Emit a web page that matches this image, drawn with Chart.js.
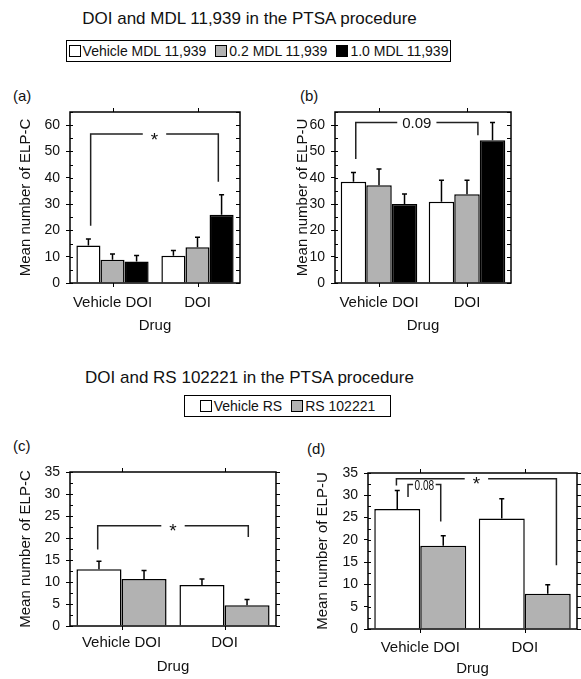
<!DOCTYPE html>
<html><head><meta charset="utf-8">
<script src="https://cdn.jsdelivr.net/npm/chart.js@4.4.0/dist/chart.umd.min.js"></script>
<style>
body{margin:0;background:#fff;}
#page{position:relative;width:581px;height:679px;font-family:"Liberation Sans",Arial,sans-serif;color:#111;overflow:hidden;}
.t{position:absolute;white-space:nowrap;line-height:1;}
canvas{position:absolute;}
.legend{position:absolute;border:1px solid #000;height:22px;display:flex;align-items:center;justify-content:center;font-size:14px;box-sizing:border-box;white-space:nowrap;}
.sw{display:inline-block;width:12px;height:12px;border:1px solid #000;box-sizing:border-box;margin-right:2px;}
.gap{display:inline-block;width:9px;}
</style></head>
<body>
<div id="page">
  <div class="t" id="title1" style="left:0;width:499px;text-align:center;top:10px;font-size:17px;">DOI and MDL 11,939 in the PTSA procedure</div>
  <div class="legend" style="left:66px;top:40px;width:385px;">
    <span class="sw" style="background:#fff"></span>Vehicle MDL 11,939<span class="gap"></span>
    <span class="sw" style="background:#b2b2b2"></span>0.2 MDL 11,939<span class="gap"></span>
    <span class="sw" style="background:#000"></span>1.0 MDL 11,939
  </div>
  <div class="t" style="left:13px;top:88px;font-size:15px;">(a)</div>
  <div class="t" style="left:300px;top:88px;font-size:15px;">(b)</div>
  <div class="t" id="title2" style="left:0;width:499px;text-align:center;top:369px;font-size:17px;">DOI and RS 102221 in the PTSA procedure</div>
  <div class="legend" style="left:184px;top:395px;width:207px;">
    <span class="sw" style="background:#fff"></span>Vehicle RS<span class="gap"></span>
    <span class="sw" style="background:#b2b2b2"></span>RS 102221
  </div>
  <div class="t" style="left:13px;top:438px;font-size:15px;">(c)</div>
  <div class="t" style="left:307px;top:441px;font-size:15px;">(d)</div>
  <canvas id="ca"></canvas>
  <canvas id="cb"></canvas>
  <canvas id="cc"></canvas>
  <canvas id="cd"></canvas>
</div>
<script>
// ---------- DATA ----------
const categories = ['Vehicle DOI', 'DOI'];
const seriesMDL = ['Vehicle MDL 11,939', '0.2 MDL 11,939', '1.0 MDL 11,939'];
const seriesRS = ['Vehicle RS', 'RS 102221'];

// (a) ELP-C, DOI x MDL 11,939
const a_vehicle = [14.3, 10.4];
const a_mdl02   = [8.8, 13.6];
const a_mdl10   = [8.2, 25.9];
const a_vehicle_err = [2.4, 2.0];
const a_mdl02_err   = [2.2, 3.8];
const a_mdl10_err   = [2.3, 7.6];

// (b) ELP-U, DOI x MDL 11,939
const b_vehicle = [38.5, 30.9];
const b_mdl02   = [37.2, 33.7];
const b_mdl10   = [30.0, 54.3];
const b_vehicle_err = [3.5, 8.2];
const b_mdl02_err   = [6.1, 5.4];
const b_mdl10_err   = [3.8, 6.7];

// (c) ELP-C, DOI x RS 102221
const c_vehicle = [12.9, 9.3];
const c_rs      = [10.7, 4.7];
const c_vehicle_err = [1.8, 1.4];
const c_rs_err      = [1.9, 1.3];

// (d) ELP-U, DOI x RS 102221
const d_vehicle = [26.9, 24.8];
const d_rs      = [18.7, 7.9];
const d_vehicle_err = [4.2, 4.4];
const d_rs_err      = [2.2, 2.0];

// y tick labels
const yTicksTop = [0, 10, 20, 30, 40, 50, 60];
const yTicksBottom = [0, 5, 10, 15, 20, 25, 30, 35];

// significance brackets (x in category units, y in data units)
const a_brackets = [{from: -0.257, to: 1.245, y: 56.6, yFrom: 21.8, yTo: 38.5, label: '*'}];
const b_brackets = [{from: -0.264, to: 1.124, y: 61.0, yFrom: 47.1, yTo: 56.2, label: '0.09'}];
const c_brackets = [{from: -0.231, to: 1.231, y: 22.8, yFrom: 17.4, yTo: 20.2, label: '*'}];
const d_brackets = [
  {from: -0.228, to: 1.303, y: 33.7, yFrom: 32.2, yTo: 14.3, label: '*'},
  {from: -0.117, to: 0.196, y: 32.4, yFrom: 29.6, yTo: 24.1, label: '0.08', narrow: true}
];

// ---------- DRAWING ----------
const FONT = '"Liberation Sans", Arial, sans-serif';
const WHITE = '#ffffff', GRAY = '#b2b2b2', BLACK = '#000000';

function ds(label, data, errors, color) {
  return {label, data, errors, backgroundColor: color, borderColor: '#000', borderWidth: 1.5,
          barPercentage: 1.0};
}

function makeChart(id, box, plot, cfg) {
  const cv = document.getElementById(id);
  cv.style.left = box.left + 'px'; cv.style.top = box.top + 'px';
  cv.width = box.width; cv.height = box.height;
  cv.style.width = box.width + 'px'; cv.style.height = box.height + 'px';

  const errorBars = {
    id: 'errorBars_' + id,
    afterDatasetsDraw(chart) {
      const {ctx, scales: {y}} = chart;
      ctx.save(); ctx.strokeStyle = '#000'; ctx.lineWidth = 1.5;
      chart.data.datasets.forEach((d, di) => {
        if (!d.errors) return;
        chart.getDatasetMeta(di).data.forEach((bar, i) => {
          const top = y.getPixelForValue(d.data[i] + d.errors[i]);
          ctx.beginPath();
          ctx.moveTo(bar.x, bar.y); ctx.lineTo(bar.x, top);
          ctx.moveTo(bar.x - 2.5, top); ctx.lineTo(bar.x + 2.5, top);
          ctx.stroke();
        });
      });
      ctx.restore();
    }
  };

  const brackets = {
    id: 'brackets_' + id,
    afterDatasetsDraw(chart) {
      const {ctx, scales: {x, y}} = chart;
      ctx.save(); ctx.strokeStyle = '#222'; ctx.fillStyle = '#111'; ctx.lineWidth = 1.5;
      cfg.brackets.forEach(b => {
        const x1 = x.getPixelForValue(b.from), x2 = x.getPixelForValue(b.to);
        const yl = y.getPixelForValue(b.y);
        const y1 = y.getPixelForValue(b.yFrom), y2 = y.getPixelForValue(b.yTo);
        const star = b.label === '*';
        const sx = b.narrow ? 0.72 : 1;
        ctx.font = (b.narrow ? '14px ' : star ? '19px ' : '15px ') + FONT;
        const m = ctx.measureText(b.label);
        const cx = (x1 + x2) / 2;
        const half = m.width * sx / 2 + (b.narrow ? 1.5 : star ? 8 : 5);
        ctx.beginPath();
        ctx.moveTo(x1, y1); ctx.lineTo(x1, yl); ctx.lineTo(cx - half, yl);
        ctx.moveTo(cx + half, yl); ctx.lineTo(x2, yl); ctx.lineTo(x2, y2);
        ctx.stroke();
        ctx.textAlign = 'center'; ctx.textBaseline = 'alphabetic';
        const asc = m.actualBoundingBoxAscent, desc = m.actualBoundingBoxDescent;
        const extra = star ? 2 : 0;
        ctx.save();
        ctx.translate(cx, yl + (asc - desc) / 2 + extra);
        ctx.scale(sx, 1);
        ctx.fillText(b.label, 0, 0);
        ctx.restore();
      });
      ctx.restore();
    }
  };

  const frame = {
    id: 'frame_' + id,
    afterDraw(chart) {
      const {ctx, chartArea: a, scales: {x, y}} = chart;
      ctx.save(); ctx.strokeStyle = '#000';
      ctx.lineWidth = 1.5;
      ctx.strokeRect(a.left, a.top, a.right - a.left, a.bottom - a.top);
      ctx.lineWidth = 1;
      ctx.beginPath();
      for (let v = 0; v <= y.max + 1e-9; v += cfg.minor) {
        const py = Math.round(y.getPixelForValue(v)) + 0.5;
        ctx.moveTo(a.left, py); ctx.lineTo(a.left + 3, py);
        const d = cfg.rightOut ? 4 : -4;
        ctx.moveTo(a.right, py); ctx.lineTo(a.right + d, py);
      }
      for (let i = 0; i < categories.length; i++) {
        const px = Math.round(x.getPixelForValue(i)) + 0.5;
        ctx.moveTo(px, a.top); ctx.lineTo(px, a.top - 4);
        ctx.moveTo(px, a.bottom); ctx.lineTo(px, a.bottom + 4);
      }
      ctx.stroke();
      ctx.restore();
    }
  };

  const datasets = cfg.datasets.map(d => Object.assign(d, {categoryPercentage: cfg.catPct}));

  return new Chart(cv, {
    type: 'bar',
    data: {labels: categories, datasets},
    plugins: [errorBars, brackets, frame],
    options: {
      responsive: false, animation: false, devicePixelRatio: 1,
      layout: {padding: {left: 0, top: plot.top - box.top, right: box.left + box.width - plot.right, bottom: 0}},
      plugins: {legend: {display: false}, tooltip: {enabled: false}},
      scales: {
        x: {
          type: 'category', offset: true,
          grid: {display: false, drawTicks: false}, border: {display: false},
          ticks: {font: {family: FONT, size: 15}, color: '#111', padding: cfg.xTickPad,
                  maxRotation: 0, minRotation: 0, autoSkip: false},
          title: {display: true, text: 'Drug', font: {family: FONT, size: 15}, color: '#111',
                  padding: {top: 0, bottom: cfg.xTitlePad}},
          afterFit(s) { s.height = box.top + box.height - plot.bottom; }
        },
        y: {
          min: 0, max: cfg.yMax,
          afterBuildTicks(s) { s.ticks = cfg.yTicks.map(v => ({value: v})); },
          grid: {drawOnChartArea: false, drawTicks: true, tickLength: 4, color: '#000', lineWidth: 1},
          border: {display: false},
          ticks: {font: {family: FONT, size: 14}, color: '#111', padding: 6},
          title: {display: true, text: cfg.yTitle, font: {family: FONT, size: 15}, color: '#111',
                  padding: {top: cfg.yTitlePad, bottom: 0}},
          afterFit(s) { s.width = plot.left - box.left; }
        }
      }
    }
  });
}

makeChart('ca', {left: 0, top: 80, width: 290, height: 260}, {left: 70, top: 112, right: 240, bottom: 283}, {
  yMax: 65, yTicks: yTicksTop, minor: 5, rightOut: false, catPct: 0.85,
  yTitle: 'Mean number of ELP-C', yTitlePad: 17, xTickPad: 11, xTitlePad: 5,
  brackets: a_brackets,
  datasets: [ds(seriesMDL[0], a_vehicle, a_vehicle_err, WHITE),
             ds(seriesMDL[1], a_mdl02, a_mdl02_err, GRAY),
             ds(seriesMDL[2], a_mdl10, a_mdl10_err, BLACK)]
});

makeChart('cb', {left: 290, top: 80, width: 291, height: 260}, {left: 335, top: 112, right: 511, bottom: 283}, {
  yMax: 65, yTicks: yTicksTop, minor: 5, rightOut: false, catPct: 0.87,
  yTitle: 'Mean number of ELP-U', yTitlePad: 4, xTickPad: 11, xTitlePad: 5,
  brackets: b_brackets,
  datasets: [ds(seriesMDL[0], b_vehicle, b_vehicle_err, WHITE),
             ds(seriesMDL[1], b_mdl02, b_mdl02_err, GRAY),
             ds(seriesMDL[2], b_mdl10, b_mdl10_err, BLACK)]
});

makeChart('cc', {left: 0, top: 430, width: 290, height: 249}, {left: 70, top: 472, right: 276, bottom: 626}, {
  yMax: 35, yTicks: yTicksBottom, minor: 2.5, rightOut: true, catPct: 0.875,
  yTitle: 'Mean number of ELP-C', yTitlePad: 17, xTickPad: 8, xTitlePad: 3,
  brackets: c_brackets,
  datasets: [ds(seriesRS[0], c_vehicle, c_vehicle_err, WHITE),
             ds(seriesRS[1], c_rs, c_rs_err, GRAY)]
});

makeChart('cd', {left: 290, top: 430, width: 291, height: 249}, {left: 368, top: 473, right: 577, bottom: 629}, {
  yMax: 35, yTicks: yTicksBottom, minor: 2.5, rightOut: true, catPct: 0.88,
  yTitle: 'Mean number of ELP-U', yTitlePad: 24, xTickPad: 10, xTitlePad: 1,
  brackets: d_brackets,
  datasets: [ds(seriesRS[0], d_vehicle, d_vehicle_err, WHITE),
             ds(seriesRS[1], d_rs, d_rs_err, GRAY)]
});
</script>
</body></html>
